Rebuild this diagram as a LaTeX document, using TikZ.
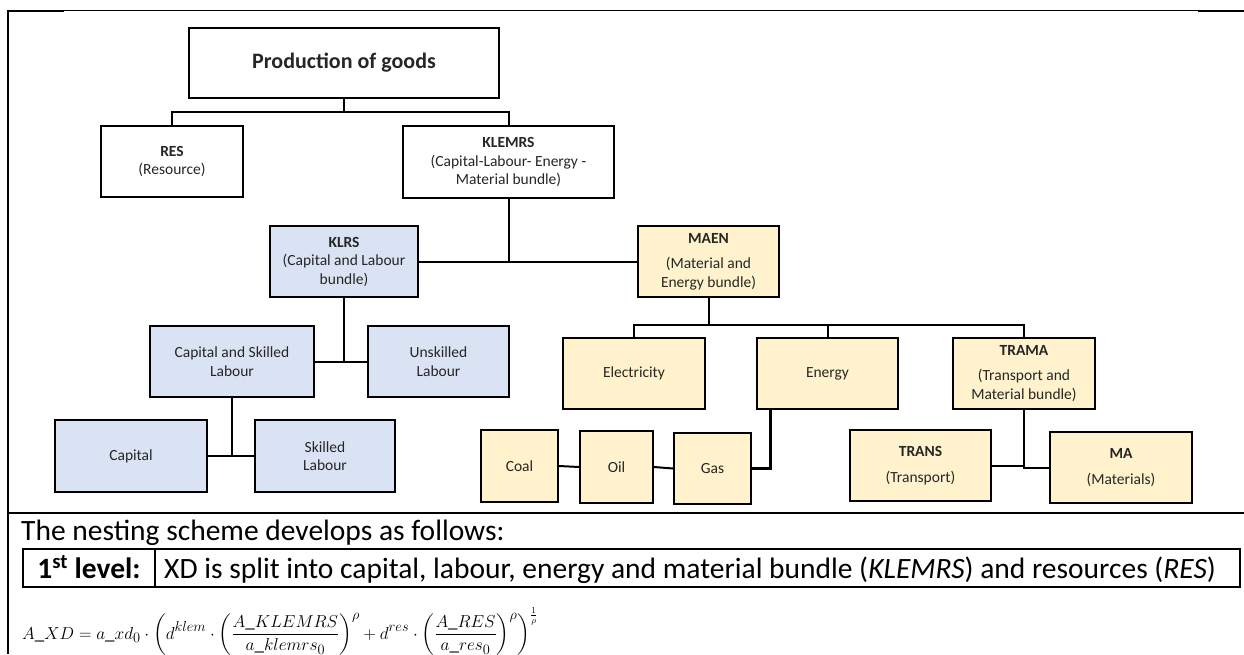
\documentclass[tikz,border=0pt]{standalone}
\usepackage[no-math]{fontspec}
\setmainfont{Carlito}
\usepackage{amsmath}
\usetikzlibrary{calc}
\definecolor{boxblue}{HTML}{DAE3F3}
\definecolor{boxyellow}{HTML}{FFF2CC}
\tikzset{
  treebox/.style={draw=black, line width=2pt, inner sep=0pt, align=center,
    font=\fontsize{15.5}{18.5}\selectfont, text=black!85},
  whitebox/.style={treebox, fill=white},
  bluebox/.style={treebox, fill=boxblue},
  yellowbox/.style={treebox, fill=boxyellow},
  link/.style={draw=black, line width=2pt},
  bodytext/.style={inner sep=0pt, font=\fontsize{29.5}{34}\selectfont, text=black},
}
\begin{document}
\begin{tikzpicture}[x=1pt, y=-1pt]
\useasboundingbox (0,0) rectangle (1244,654);
\fill[white] (0,0) rectangle (1244,654);

% page frame
\draw[line width=1pt] (7,10.5) -- (1244,10.5);
\draw[line width=2.5pt] (7,11) -- (64,11);
\draw[line width=2.5pt] (1198,11) -- (1244,11);
\draw[line width=2pt] (8,10) -- (8,654);
\draw[line width=1.5pt] (7,513) -- (1244,513);

% nesting tree
\node[whitebox, minimum width=310pt, minimum height=70pt, font=\bfseries\fontsize{22}{26}\selectfont] (prod) at (344,63) {Production of goods};
\node[whitebox, minimum width=142pt, minimum height=71pt] (res) at (172,161.5) {\textbf{RES}\\(Resource)};
\node[whitebox, minimum width=211pt, minimum height=72pt] (klemrs) at (508.5,162) {\textbf{KLEMRS}\\(Capital-Labour- Energy -\\Material bundle)};

\node[bluebox, minimum width=148pt, minimum height=71pt] (klrs) at (344,261.5) {\textbf{KLRS}\\(Capital and Labour\\bundle)};
\node[yellowbox, minimum width=141pt, minimum height=71pt] (maen) at (708.5,261.5) {\textbf{MAEN}\\[7pt](Material and\\Energy bundle)};

\node[bluebox, minimum width=164pt, minimum height=71pt] (csl) at (232,361.5) {Capital and Skilled\\Labour};
\node[bluebox, minimum width=141pt, minimum height=71pt] (unsk) at (438.5,361.5) {Unskilled\\Labour};
\node[bluebox, minimum width=152pt, minimum height=72pt] (capital) at (131,456) {Capital};
\node[bluebox, minimum width=140pt, minimum height=72pt] (skilled) at (325,456) {Skilled\\Labour};

\node[yellowbox, minimum width=142pt, minimum height=71pt] (elec) at (634,373.5) {Electricity};
\node[yellowbox, minimum width=141pt, minimum height=71pt] (energy) at (827.5,373.5) {Energy};
\node[yellowbox, minimum width=142pt, minimum height=71pt] (trama) at (1024,373.5) {\textbf{TRAMA}\\[7pt](Transport and\\Material bundle)};

\node[yellowbox, minimum width=77pt, minimum height=72pt] (coal) at (519.5,466) {Coal};
\node[yellowbox, minimum width=73pt, minimum height=72pt] (oil) at (616.5,467) {Oil};
\node[yellowbox, minimum width=77pt, minimum height=71pt] (gas) at (712.5,468.5) {Gas};
\node[yellowbox, minimum width=141pt, minimum height=71pt] (trans) at (920.5,465.5) {\textbf{TRANS}\\[7pt](Transport)};
\node[yellowbox, minimum width=142pt, minimum height=71pt] (ma) at (1121,467.5) {\textbf{MA}\\[7pt](Materials)};

% connectors
\coordinate (j1) at ($(prod.south)+(0,13)$);
\draw[link] (prod.south) -- (j1);
\draw[link] (res.north) |- (j1) -| (klemrs.north);

\draw[link] (klrs.east) -- (maen.west);
\draw[link] (klemrs.south) -- (klemrs.south |- maen.west);

\draw[link] (klrs.south) -- (klrs.south |- csl.east);
\draw[link] (csl.east) -- (unsk.west);

\draw[link] (csl.south) -- (csl.south |- capital.east);
\draw[link] (capital.east) -- (skilled.west);

\coordinate (j2) at ($(maen.south)+(0,27)$);
\draw[link] (maen.south) -- (j2);
\draw[link] (elec.north) |- (j2) -| (trama.north);
\draw[link] (energy.north) -- (energy.north |- j2);

\draw[link] (coal.east) -- (oil.west);
\draw[link] (oil.east) -- (gas.west);
\draw[draw=black, line width=3pt] (gas.east) -| ($(energy.south west)+(14,0)$);

\draw[link] (trans.east) -- (trans.east -| trama.south);
\draw[link] (trama.south) |- (ma.west);

% description below the tree
\node[bodytext, anchor=base west] (intro) at (21,540) {The nesting scheme develops as follows:};
\draw[line width=1.5pt] (23,549) rectangle (1240,587);
\draw[line width=1.5pt] (155,549) -- (155,587);
\node[bodytext, anchor=base, font=\bfseries\fontsize{29.5}{34}\selectfont] (lvl) at (89,578) {1\textsuperscript{st} level:};
\node[bodytext, anchor=base west] (desc) at (164,578) {XD is split into capital, labour, energy and material bundle (\textit{KLEMRS}) and resources (\textit{RES})};
\node[inner sep=0pt, anchor=base west, font=\fontsize{19}{22}\selectfont] (eq) at (22,639)
  {$\displaystyle A\_XD = a\_xd_0 \cdot \left( d^{klem} \cdot \left( \frac{A\_KLEMRS}{a\_klemrs_0} \right)^{\rho} + d^{res} \cdot \left( \frac{A\_RES}{a\_res_0} \right)^{\rho} \right)^{\frac{1}{\rho}}$};
\end{tikzpicture}
\end{document}
